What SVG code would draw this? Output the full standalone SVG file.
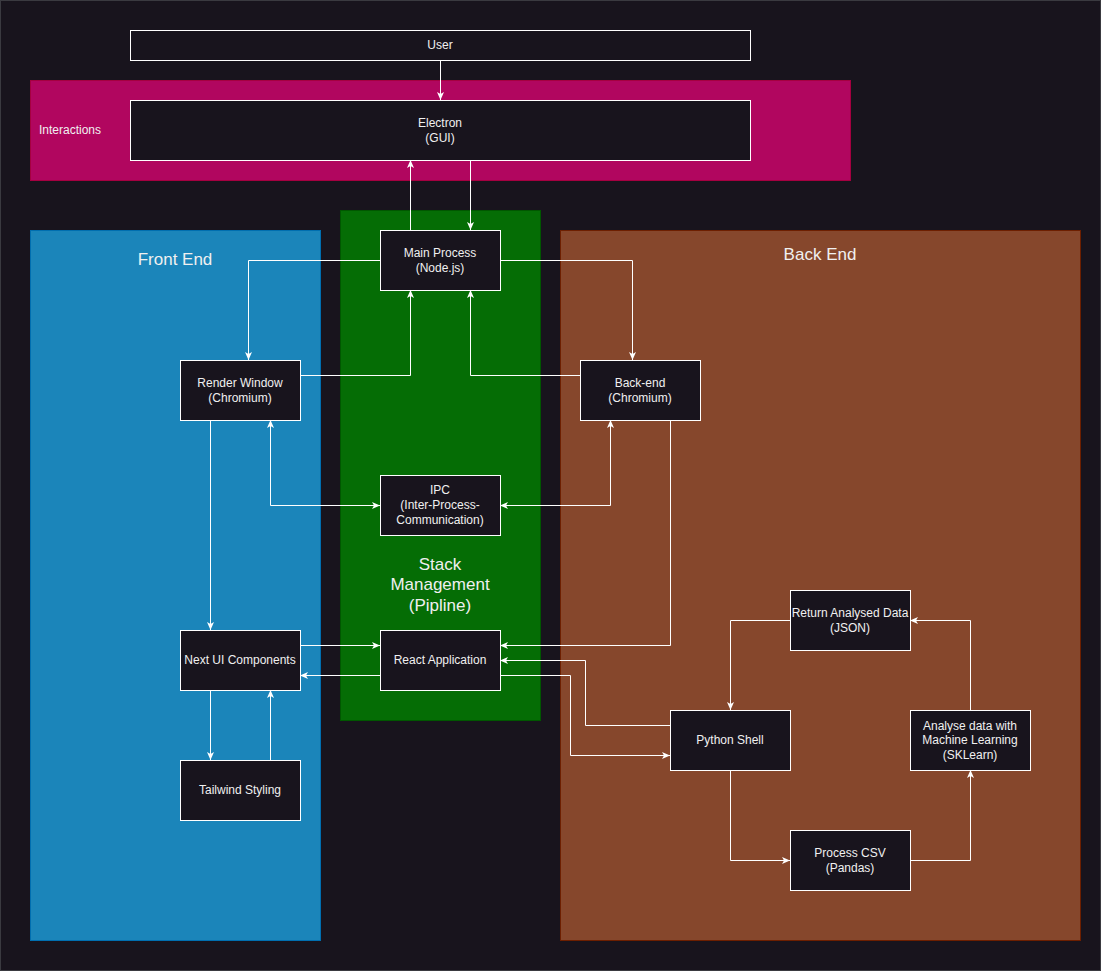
<svg xmlns="http://www.w3.org/2000/svg" width="1101" height="971" viewBox="0 0 1101 971">
<defs>
<style>
.node rect{fill:#18141d;stroke:#ffffff;stroke-width:1}
.node text,.lbl{font-family:"Liberation Sans",Arial,sans-serif;font-size:12px;fill:#f0f0f0;text-anchor:middle}
.title{font-family:"Liberation Sans",Arial,sans-serif;font-size:17px;fill:#f0f0f0;text-anchor:middle}
.edges path{fill:none;stroke:#ffffff;stroke-width:1}
.end{marker-end:url(#arr)}
.both{marker-end:url(#arr);marker-start:url(#arrs)}
</style>
<marker id="arr" viewBox="0 0 8 7" refX="8" refY="3.5" markerWidth="8" markerHeight="7" markerUnits="userSpaceOnUse" orient="auto">
<path d="M0,0 L8,3.5 L0,7 L2,3.5 z" fill="#ffffff"/>
</marker>
<marker id="arrs" viewBox="0 0 8 7" refX="0" refY="3.5" markerWidth="8" markerHeight="7" markerUnits="userSpaceOnUse" orient="auto">
<path d="M8,0 L0,3.5 L8,7 L6,3.5 z" fill="#ffffff"/>
</marker>
</defs>
<rect x="0.5" y="0.5" width="1100" height="970" fill="#18141d" stroke="#3a3a40"/>

<g id="containers">
<g id="interactions">
<rect x="30.5" y="80.5" width="820" height="100" fill="#b1065f" stroke="#a50040"/>
<text x="39" y="134" font-family="Liberation Sans,Arial,sans-serif" font-size="12" fill="#f0f0f0">Interactions</text>
</g>
<g id="frontend">
<rect x="30.5" y="230.5" width="290" height="710" fill="#1b85ba" stroke="#006eaf"/>
<text class="title" x="175" y="265">Front End</text>
</g>
<g id="stack">
<rect x="340.5" y="210.5" width="200" height="510" fill="#056d05" stroke="#005700"/>
<text class="title" x="440" y="570">Stack</text>
<text class="title" x="440" y="590">Management</text>
<text class="title" x="440" y="611">(Pipline)</text>
</g>
<g id="backend">
<rect x="560.5" y="230.5" width="520" height="710" fill="#86472c" stroke="#6d1f00"/>
<text class="title" x="820" y="260">Back End</text>
</g>
</g>

<g class="edges" id="connectors">
<path class="end" d="M440.5,60 V100"/>
<path class="end" d="M410.5,230 V160"/>
<path class="end" d="M470.5,160 V230"/>
<path class="end" d="M380,260.5 H248.5 V360"/>
<path class="end" d="M500,260.5 H632.5 V360"/>
<path class="end" d="M300,375.5 H410.5 V290"/>
<path class="end" d="M580,375.5 H470.5 V290"/>
<path class="both" d="M270.5,420 V505.5 H380"/>
<path class="both" d="M610.5,420 V505.5 H500"/>
<path class="end" d="M210.5,420 V630"/>
<path class="end" d="M670.5,420 V645.5 H500"/>
<path class="end" d="M300,645.5 H380"/>
<path class="end" d="M380,675.5 H300"/>
<path class="end" d="M670,725.5 H585.5 V660.5 H500"/>
<path class="end" d="M500,675.5 H570.5 V755.5 H670"/>
<path class="end" d="M790,620.5 H730.5 V710"/>
<path class="end" d="M730.5,770 V860.5 H790"/>
<path class="end" d="M910,860.5 H970.5 V770"/>
<path class="end" d="M970.5,710 V620.5 H910"/>
<path class="end" d="M210.5,690 V760"/>
<path class="end" d="M270.5,760 V690"/>
</g>

<g class="node" id="user"><rect x="130.5" y="30.5" width="620" height="30"/><text x="440" y="49">User</text></g>
<g class="node" id="electron"><rect x="130.5" y="100.5" width="620" height="60"/><text x="440" y="127">Electron</text><text x="440" y="142">(GUI)</text></g>
<g class="node" id="main-process"><rect x="380.5" y="230.5" width="120" height="60"/><text x="440" y="257">Main Process</text><text x="440" y="272">(Node.js)</text></g>
<g class="node" id="render-window"><rect x="180.5" y="360.5" width="120" height="60"/><text x="240" y="387">Render Window</text><text x="240" y="402">(Chromium)</text></g>
<g class="node" id="back-end"><rect x="580.5" y="360.5" width="120" height="60"/><text x="640" y="387">Back-end</text><text x="640" y="402">(Chromium)</text></g>
<g class="node" id="ipc"><rect x="380.5" y="475.5" width="120" height="60"/><text x="440" y="494">IPC</text><text x="440" y="509">(Inter-Process-</text><text x="440" y="524">Communication)</text></g>
<g class="node" id="next-ui"><rect x="180.5" y="630.5" width="120" height="60"/><text x="240" y="664">Next UI Components</text></g>
<g class="node" id="react"><rect x="380.5" y="630.5" width="120" height="60"/><text x="440" y="664">React Application</text></g>
<g class="node" id="tailwind"><rect x="180.5" y="760.5" width="120" height="60"/><text x="240" y="794">Tailwind Styling</text></g>
<g class="node" id="return-data"><rect x="790.5" y="590.5" width="120" height="60"/><text x="850" y="617">Return Analysed Data</text><text x="850" y="632">(JSON)</text></g>
<g class="node" id="python-shell"><rect x="670.5" y="710.5" width="120" height="60"/><text x="730" y="744">Python Shell</text></g>
<g class="node" id="analyse"><rect x="910.5" y="710.5" width="120" height="60"/><text x="970" y="730">Analyse data with</text><text x="970" y="744">Machine Learning</text><text x="970" y="759">(SKLearn)</text></g>
<g class="node" id="process-csv"><rect x="790.5" y="830.5" width="120" height="60"/><text x="850" y="857">Process CSV</text><text x="850" y="872">(Pandas)</text></g>
</svg>
